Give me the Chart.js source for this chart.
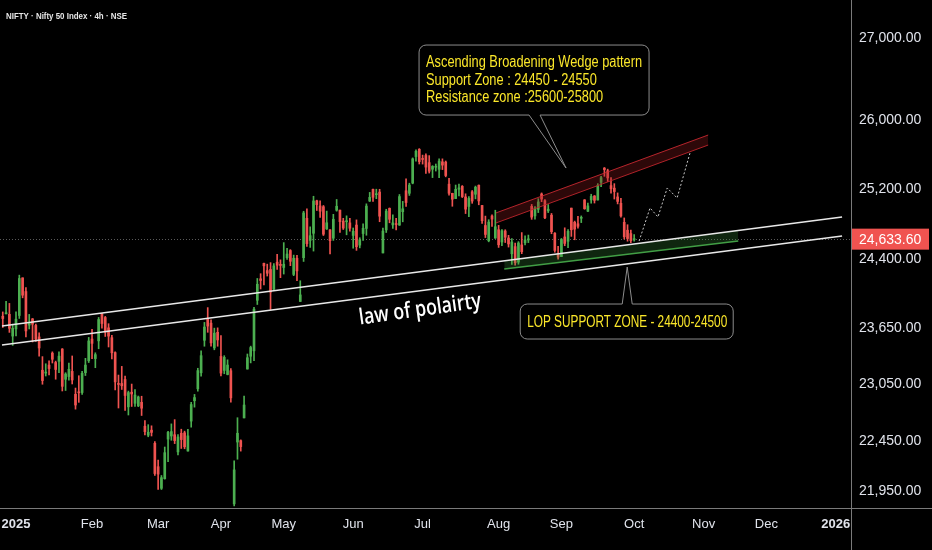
<!DOCTYPE html>
<html>
<head>
<meta charset="utf-8">
<script src="https://cdn.jsdelivr.net/npm/chart.js@4.4.1/dist/chart.umd.min.js"></script>
<style>
  html, body { margin: 0; padding: 0; background: #000; }
  #wrap { width: 932px; height: 550px; }
</style>
</head>
<body>
<div id="wrap"><canvas id="nifty" width="932" height="550"></canvas></div>
<script>
// NIFTY daily sessions, first one is 26 Dec 2024 (session -4), 1 Jan 2025 is session 0
const firstSession = -4;

const opens = [
  23775, 23801, 23796, 23560,
  23637, 23783, 24196, 24045, 23679, 23746, 23675, 23551, 23195, 23165, 23250, 23377, 23277, 23290, 23421, 23099, 23128, 23183, 22941, 22961, 22960, 23169, 23296,
  23528, 23319, 23509, 23802, 23761, 23649, 23543, 23383, 23050, 23055, 23097, 22810, 22963, 22847, 22821, 22857, 22609, 22516, 22568, 22433,
  22194, 21976, 22073, 22476, 22508, 22521, 22345, 22536, 22541, 22354, 22662, 22874, 22999, 23168, 23515, 23751, 23700, 23433, 23601,
  23342, 23193, 23150, 23190, 21820, 22446, 22460, 22695, 23208, 23344, 23402, 23949, 24185, 24357, 24277, 24289, 24070, 24370, 24342,
  24311, 24420, 24500, 24234, 24414, 23936, 24420, 24864, 24614, 24694, 25064, 25005, 24996, 24744, 24733, 24639, 24956, 24957, 24832, 24825, 24812,
  24670, 24787, 24561, 24691, 24749, 25061, 25196, 25134, 25164, 24473, 24732, 24977, 24789, 24803, 24787, 24939, 25179, 25150, 25268, 25576, 25661,
  25551, 25588, 25505, 25428, 25451, 25427, 25514, 25511, 25255, 25149, 25089, 25196, 25230, 25108, 24999, 25167, 25139, 25243, 25010, 24782, 24610, 24890, 24642,
  24734, 24596, 24720, 24641, 24464, 24544, 24371, 24563, 24587, 24619, 25000, 24891, 24966, 25142, 25065, 24949, 24899, 24695, 24467,
  24432, 24653, 24604, 24980, 24819, 24802, 24864, 25074, 24945, 25074, 25119, 25073, 25276, 25441, 25410, 25238, 25209, 25108, 25035, 24818, 24729, 24691,
  24620
];
const highs = [
  23822, 23938, 23915, 23689,
  23822, 24226, 24196, 24089, 23795, 23751, 23690, 23596, 23340, 23264, 23294, 23391, 23292, 23391, 23426, 23169, 23271, 23347, 23007, 23137, 23183, 23322, 23546,
  23632, 23381, 23762, 23807, 23773, 23694, 23569, 23391, 23144, 23236, 23133, 22975, 23049, 22992, 22923, 22921, 22668, 22625, 22613, 22450,
  22261, 22105, 22395, 22556, 22633, 22677, 22522, 22578, 22558, 22577, 22857, 22940, 23216, 23402, 23708, 23869, 23736, 23646, 23649,
  23565, 23350, 23306, 23214, 22254, 22697, 22468, 22923, 23368, 23452, 23872, 24189, 24242, 24359, 24348, 24365, 24355, 24457, 24396,
  24589, 24526, 24510, 24449, 24447, 24164, 24944, 24973, 24767, 25116, 25071, 25062, 25010, 24946, 24737, 24909, 25079, 24957, 24864, 24892, 24863,
  24754, 24846, 24644, 24800, 25029, 25160, 25199, 25197, 25196, 24754, 24967, 24982, 24903, 24863, 25136, 25057, 25318, 25266, 25560, 25654, 25669,
  25593, 25608, 25587, 25470, 25489, 25549, 25549, 25524, 25322, 25151, 25245, 25255, 25239, 25144, 25111, 25182, 25233, 25246, 25011, 24889, 24848, 24902, 24956,
  24784, 24736, 24734, 24671, 24634, 24585, 24600, 24702, 24664, 24674, 25022, 24997, 25088, 25154, 25078, 25021, 24919, 24702, 24546,
  24636, 24756, 24737, 24980, 24832, 24885, 24891, 25078, 25037, 25139, 25124, 25261, 25346, 25448, 25429, 25331, 25261, 25154, 25093, 24868, 24791, 24731,
  24680
];
const lows = [
  23653, 23800, 23600, 23460,
  23562, 23751, 23976, 23551, 23637, 23497, 23503, 23344, 23047, 23134, 23146, 23272, 23100, 23170, 22976, 22981, 23090, 23050, 22786, 22857, 22939, 23139, 23277,
  23318, 23222, 23424, 23646, 23556, 23443, 23316, 22987, 22798, 22992, 22774, 22725, 22814, 22814, 22812, 22720, 22518, 22500, 22508, 22105,
  21965, 21964, 22068, 22245, 22464, 22430, 22315, 22380, 22377, 22353, 22599, 22807, 22974, 23132, 23451, 23601, 23452, 23413, 23451,
  23136, 23158, 23146, 22858, 21800, 22270, 22353, 22695, 23207, 23273, 23298, 23903, 24073, 24119, 24216, 23847, 24055, 24290, 24198,
  24238, 24400, 24331, 24220, 24164, 23936, 24378, 24547, 24535, 24494, 24953, 24874, 24669, 24737, 24462, 24614, 24945, 24704, 24737, 24677, 24717,
  24526, 24502, 24530, 24615, 24672, 25055, 25056, 25088, 24825, 24473, 24703, 24813, 24750, 24733, 24783, 24824, 24999, 25125, 25259, 25523, 25489,
  25488, 25379, 25384, 25331, 25407, 25331, 25424, 25340, 25129, 25001, 25089, 25121, 25101, 24918, 24882, 25035, 25086, 25018, 24806, 24646, 24598, 24771, 24635,
  24535, 24554, 24590, 24539, 24344, 24337, 24347, 24465, 24563, 24589, 24852, 24855, 24929, 25054, 24859, 24929, 24689, 24481, 24404,
  24432, 24554, 24533, 24659, 24621, 24751, 24815, 24967, 24940, 25036, 25038, 25072, 25227, 25346, 25286, 25151, 25084, 25028, 24878, 24629, 24605, 24588,
  24605
];
const closes = [
  23750, 23813, 23644, 23645,
  23743, 24189, 24005, 23616, 23708, 23689, 23527, 23432, 23086, 23176, 23213, 23312, 23203, 23345, 23025, 23155, 23205, 23092, 22829, 22957, 23163, 23250, 23508,
  23482, 23361, 23739, 23696, 23603, 23560, 23381, 23072, 23045, 23031, 22929, 22959, 22945, 22933, 22913, 22796, 22553, 22547, 22545, 22125,
  22119, 22083, 22337, 22545, 22553, 22461, 22498, 22471, 22397, 22509, 22834, 22907, 23191, 23350, 23658, 23668, 23487, 23592, 23519,
  23165, 23332, 23250, 22904, 22162, 22536, 22399, 22829, 23328, 23437, 23852, 24125, 24167, 24329, 24247, 24039, 24328, 24336, 24334,
  24347, 24461, 24380, 24414, 24273, 24008, 24925, 24578, 24667, 25062, 25020, 24945, 24684, 24813, 24610, 24853, 25001, 24826, 24753, 24834, 24751,
  24717, 24543, 24620, 24751, 25003, 25103, 25104, 25141, 24888, 24719, 24946, 24853, 24812, 24793, 25112, 24972, 25044, 25245, 25549, 25637, 25517,
  25542, 25453, 25405, 25461, 25461, 25523, 25476, 25355, 25150, 25082, 25196, 25212, 25112, 24968, 25091, 25061, 25220, 25062, 24837, 24681, 24821, 24855, 24768,
  24565, 24723, 24650, 24574, 24596, 24363, 24585, 24487, 24619, 24631, 24877, 24981, 25051, 25084, 24870, 24968, 24712, 24501, 24427,
  24625, 24580, 24716, 24734, 24741, 24773, 24869, 24973, 25005, 25114, 25069, 25239, 25330, 25424, 25327, 25202, 25170, 25057, 24891, 24655, 24635, 24611,
  24633.6
];

// time axis: session where each month starts
const monthLabels = ['2025', 'Feb', 'Mar', 'Apr', 'May', 'Jun', 'Jul', 'Aug', 'Sep', 'Oct', 'Nov', 'Dec', '2026'];
const monthSessions = [0, 23, 43, 62, 81, 102, 123, 146, 165, 187, 208, 227, 248];
const priceTicks = [27000, 26000, 25200, 24400, 23650, 23050, 22450, 21950];
const lastPrice = 24633.6;

// drawings, [session, price]
const polarityUpper = [[-4.24, 23669], [249.9, 24879]];
const polarityLower = [[-4.24, 23464], [249.9, 24663]];
const resistanceTop = [[145.2, 24925], [209.4, 25829]];
const resistanceBottom = [[145.2, 24811], [209.4, 25711]];
const supportTop = [[147.7, 24390], [218.5, 24728]];
const supportBottom = [[147.7, 24294], [218.5, 24607]];
const projection = [[188.5, 24607], [191.8, 24982], [194.2, 24879], [197.0, 25211], [200.0, 25096], [203.9, 25618]];

const wedgeNote = ['Ascending Broadening Wedge pattern', 'Support Zone : 24450 - 24550', 'Resistance zone :25600-25800'];
const wedgeTip = [166.4, 25442];
const lopNote = 'LOP SUPPORT ZONE - 24400-24500';
const lopTip = [184.9, 24316];
const polarityText = 'law of polairty';
const polarityAt = [122.5, 23777];

const FONT = '"Liberation Sans", "DejaVu Sans", sans-serif';
const UP = '#4caf50', DOWN = '#ef5350';
const candleColors = closes.map((c, k) => c >= opens[k] ? UP : DOWN);
const pts = arr => arr.map(([x, y]) => ({ x, y }));

function line(points, color, width, extra) {
  return Object.assign({
    type: 'line', data: pts(points), borderColor: color, borderWidth: width,
    pointRadius: 0, tension: 0, fill: false, order: 2
  }, extra || {});
}

function fitText(ctx, text, x, y, k) {
  ctx.save();
  ctx.translate(x, y);
  ctx.scale(k, 1);
  ctx.fillText(text, 0, 0);
  ctx.restore();
}

function bubble(ctx, l, t, r, b, tip, tailA, tailB, side) {
  const rad = 7;
  ctx.beginPath();
  ctx.moveTo(l + rad, t);
  if (side === 'top') { ctx.lineTo(tailA, t); ctx.lineTo(tip.x, tip.y); ctx.lineTo(tailB, t); }
  ctx.lineTo(r - rad, t); ctx.arcTo(r, t, r, t + rad, rad);
  ctx.lineTo(r, b - rad); ctx.arcTo(r, b, r - rad, b, rad);
  if (side === 'bottom') { ctx.lineTo(tailB, b); ctx.lineTo(tip.x, tip.y); ctx.lineTo(tailA, b); }
  ctx.lineTo(l + rad, b); ctx.arcTo(l, b, l, b - rad, rad);
  ctx.lineTo(l, t + rad); ctx.arcTo(l, t, l + rad, t, rad);
  ctx.closePath();
  ctx.fillStyle = '#000';
  ctx.fill();
  ctx.strokeStyle = '#8c8c8c';
  ctx.lineWidth = 1;
  ctx.stroke();
}

const overlay = {
  id: 'overlay',
  beforeDatasetsDraw(chart) {
    const { ctx, chartArea: a, scales: { y } } = chart;
    const py = Math.round(y.getPixelForValue(lastPrice)) + 0.5;
    ctx.save();
    ctx.strokeStyle = 'rgba(150,150,150,0.6)';
    ctx.setLineDash([1, 2]);
    ctx.lineWidth = 1;
    ctx.beginPath(); ctx.moveTo(a.left, py); ctx.lineTo(a.right, py); ctx.stroke();
    ctx.restore();
  },
  afterDatasetsDraw(chart) {
    const { ctx, scales: { x, y } } = chart;
    ctx.save();

    // wedge note, tail points down to the pattern
    let tip = { x: x.getPixelForValue(wedgeTip[0]), y: y.getPixelForValue(wedgeTip[1]) };
    let l = tip.x - 147, t = tip.y - 123;
    bubble(ctx, l, t, l + 230, t + 70, tip, tip.x - 37, tip.x - 26, 'bottom');
    ctx.fillStyle = '#fbe72a';
    ctx.font = '16px ' + FONT;
    ctx.textBaseline = 'alphabetic';
    ctx.textAlign = 'left';
    const k = 216 / ctx.measureText(wedgeNote[0]).width;
    wedgeNote.forEach((s, i) => fitText(ctx, s, l + 7, t + 22 + i * 17.5, k));

    // LOP note, tail points up
    tip = { x: x.getPixelForValue(lopTip[0]), y: y.getPixelForValue(lopTip[1]) };
    l = tip.x - 107; t = tip.y + 37;
    bubble(ctx, l, t, l + 213, t + 35, tip, tip.x - 5, tip.x + 5, 'top');
    ctx.fillStyle = '#fbe72a';
    fitText(ctx, lopNote, l + 7, t + 23, 200 / ctx.measureText(lopNote).width);

    // law of polarity label along the channel
    const px = x.getPixelForValue(polarityAt[0]), py = y.getPixelForValue(polarityAt[1]);
    ctx.font = '600 22px "Open Sans", ' + FONT;
    ctx.fillStyle = '#ffffff';
    ctx.textAlign = 'center';
    ctx.save();
    ctx.translate(px, py);
    ctx.rotate(-8 * Math.PI / 180);
    ctx.scale(123 / ctx.measureText(polarityText).width, 1);
    ctx.fillText(polarityText, 0, 0);
    ctx.restore();
    ctx.restore();
  },
  afterDraw(chart) {
    const { ctx, chartArea: a, scales: { y }, width, height } = chart;
    ctx.save();
    ctx.strokeStyle = '#7a7a7a';
    ctx.lineWidth = 1;
    ctx.beginPath();
    ctx.moveTo(0, a.bottom + 0.5); ctx.lineTo(width, a.bottom + 0.5);
    ctx.moveTo(a.right + 0.5, 0); ctx.lineTo(a.right + 0.5, height);
    ctx.stroke();

    // title
    ctx.fillStyle = '#e6e6e6';
    ctx.font = 'bold 9px ' + FONT;
    ctx.textBaseline = 'alphabetic';
    const title = 'NIFTY · Nifty 50 Index · 4h · NSE';
    fitText(ctx, title, 6, 18.5, 121 / ctx.measureText(title).width);

    // last price tag
    const py = y.getPixelForValue(lastPrice);
    ctx.fillStyle = '#f05350';
    ctx.fillRect(a.right + 1, py - 10, 77, 21);
    ctx.fillStyle = '#ffffff';
    ctx.font = '14px ' + FONT;
    ctx.textBaseline = 'middle';
    ctx.fillText(lastPrice.toLocaleString('en-US', { minimumFractionDigits: 2 }), a.right + 8, py + 1);
    ctx.restore();
  }
};

new Chart(document.getElementById('nifty'), {
  type: 'bar',
  data: {
    datasets: [
      {
        label: 'wick',
        data: lows.map((lo, k) => ({ x: firstSession + k, y: [lo, highs[k]] })),
        backgroundColor: candleColors, barThickness: 1, grouped: false, order: 30
      },
      {
        label: 'body',
        data: opens.map((o, k) => ({ x: firstSession + k, y: [o, closes[k]] })),
        backgroundColor: candleColors, barThickness: 2, minBarLength: 1, grouped: false, order: 29
      },
      line(resistanceTop, 'rgba(200,40,48,0.9)', 1, { fill: '+1', backgroundColor: 'rgba(150,25,30,0.3)', order: 5 }),
      line(resistanceBottom, 'rgba(200,40,48,0.9)', 1, { order: 5 }),
      line(supportTop, 'rgba(0,0,0,0)', 0, { fill: '+1', backgroundColor: 'rgba(60,150,60,0.25)', order: 6 }),
      line(supportBottom, '#43a047', 1.5, { order: 6 }),
      line(polarityUpper, '#e8e8e8', 1.6),
      line(polarityLower, '#e8e8e8', 1.6),
      line(projection, '#c8c8c8', 1, { borderDash: [2, 2] })
    ]
  },
  options: {
    responsive: false,
    animation: false,
    layout: { padding: 0 },
    plugins: { legend: { display: false }, tooltip: { enabled: false } },
    scales: {
      x: {
        type: 'linear', min: -4.84, max: 252.6, offset: false,
        grid: { display: false, drawTicks: false }, border: { display: false },
        afterBuildTicks: s => { s.ticks = monthSessions.map(v => ({ value: v })); },
        afterFit: s => { s.height = 42; s.paddingLeft = 0; s.paddingRight = 0; },
        ticks: {
          autoSkip: false, maxRotation: 0, padding: 9, color: '#e0e3eb',
          font: c => ({ family: FONT, size: 13, weight: monthLabels[c.index] && monthLabels[c.index].length === 4 ? 'bold' : 'normal' }),
          callback: (v, i) => monthLabels[i]
        }
      },
      y: {
        type: 'logarithmic', position: 'right', min: 21779, max: 27474,
        grid: { display: false, drawTicks: false }, border: { display: false },
        afterBuildTicks: s => { s.ticks = priceTicks.map(v => ({ value: v })); },
        afterFit: s => { s.width = 81; s.paddingTop = 0; s.paddingBottom = 0; },
        ticks: {
          padding: 8, color: '#e0e3eb', font: { family: FONT, size: 14 },
          callback: v => Number(v).toLocaleString('en-US', { minimumFractionDigits: 2, maximumFractionDigits: 2 })
        }
      }
    }
  },
  plugins: [overlay]
});
</script>
</body>
</html>
